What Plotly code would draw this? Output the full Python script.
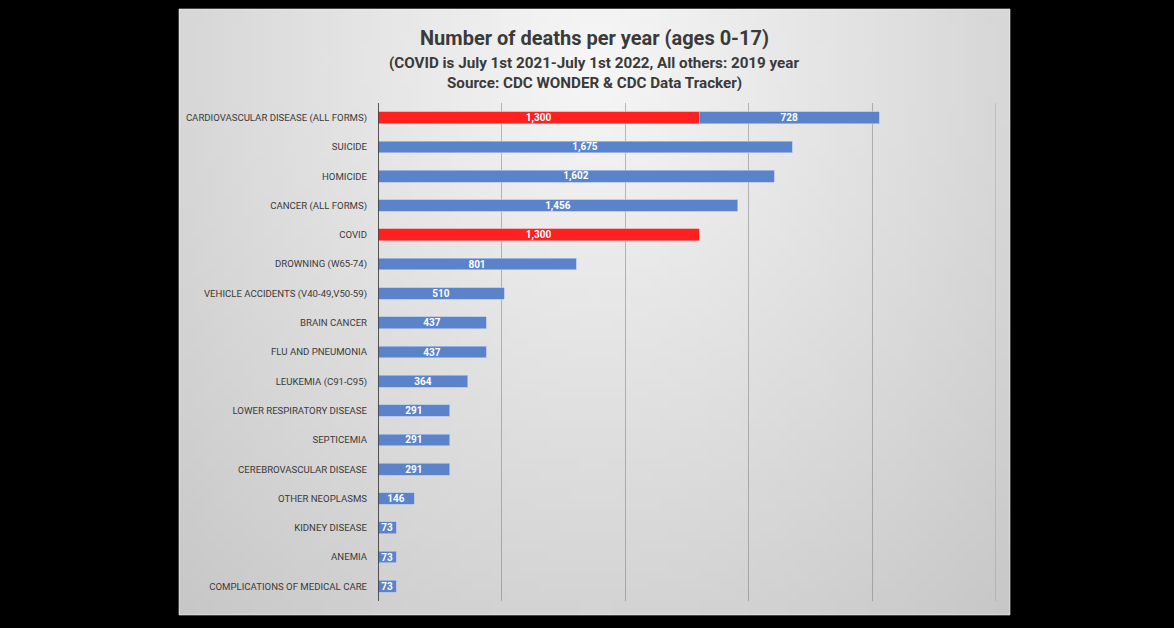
import base64
import struct
import zlib

import numpy as np
import plotly.graph_objects as go

categories = [
    "CARDIOVASCULAR DISEASE (ALL FORMS)",
    "SUICIDE",
    "HOMICIDE",
    "CANCER (ALL FORMS)",
    "COVID",
    "DROWNING (W65-74)",
    "VEHICLE ACCIDENTS (V40-49,V50-59)",
    "BRAIN CANCER",
    "FLU AND PNEUMONIA",
    "LEUKEMIA (C91-C95)",
    "LOWER RESPIRATORY DISEASE",
    "SEPTICEMIA",
    "CEREBROVASCULAR DISEASE",
    "OTHER NEOPLASMS",
    "KIDNEY DISEASE",
    "ANEMIA",
    "COMPLICATIONS OF MEDICAL CARE",
]
covid_deaths = [1300, None, None, None, 1300, None, None, None, None,
                None, None, None, None, None, None, None, None]
other_deaths = [728, 1675, 1602, 1456, None, 801, 510, 437, 437,
                364, 291, 291, 291, 146, 73, 73, 73]
x_ticks = [0, 500, 1000, 1500, 2000, 2500]

W, H = 1174, 628
# plot area in pixels
PX0, PX1, PY0, PY1 = 378, 996, 103, 601
# grey panel in pixels
GX0, GX1, GY0, GY1 = 179, 1010, 9, 615

GRID = "rgba(110,110,110,0.45)"


def to_paper_x(px):
    return (px - PX0) / (PX1 - PX0)


def to_paper_y(py):
    return (PY1 - py) / (PY1 - PY0)


def gradient_png():
    """Small grey radial gradient as a png data uri."""
    h, w = 60, 84
    yy, xx = np.mgrid[0:h, 0:w]
    u = xx / (w - 1)
    v = yy / (h - 1)
    d = np.sqrt(((u - 0.5) / 0.6) ** 2 + ((v - 0.08) / 1.0) ** 2)
    arr = np.clip(247 - 38 * d, 0, 255).astype(np.uint8)
    raw = b"".join(b"\x00" + row.tobytes() for row in arr)

    def chunk(tag, data):
        return (struct.pack(">I", len(data)) + tag + data
                + struct.pack(">I", zlib.crc32(tag + data) & 0xFFFFFFFF))

    png = (b"\x89PNG\r\n\x1a\n"
           + chunk(b"IHDR", struct.pack(">IIBBBBB", w, h, 8, 0, 0, 0, 0))
           + chunk(b"IDAT", zlib.compress(raw))
           + chunk(b"IEND", b""))
    return "data:image/png;base64," + base64.b64encode(png).decode()


FONT = "Roboto, Arial, sans-serif"

fig = go.Figure()
fig.add_trace(go.Bar(
    y=categories, x=covid_deaths, orientation="h",
    marker=dict(color="#FF2020", line=dict(color="rgba(255,150,150,0.9)", width=0.8)),
    width=0.4,
    texttemplate="%{x:,}", textposition="inside", insidetextanchor="middle",
    constraintext="none",
    textfont=dict(color="white", size=10, family=FONT, weight="bold"),
    hoverinfo="x+y", showlegend=False,
))
fig.add_trace(go.Bar(
    y=categories, x=other_deaths, orientation="h",
    marker=dict(color="#5B83CA", line=dict(color="rgba(170,195,235,0.9)", width=0.8)),
    width=0.4,
    texttemplate="%{x:,}", textposition="inside", insidetextanchor="middle",
    constraintext="none",
    textfont=dict(color="white", size=10, family=FONT, weight="bold"),
    hoverinfo="x+y", showlegend=False,
))

fig.update_layout(
    width=W, height=H,
    barmode="stack",
    paper_bgcolor="black",
    plot_bgcolor="rgba(0,0,0,0)",
    margin=dict(l=PX0, r=W - PX1, t=PY0, b=H - PY1, pad=0),
    font=dict(family=FONT, color="#3a3a3a"),
    images=[dict(
        source=gradient_png(), xref="paper", yref="paper",
        x=to_paper_x(GX0), y=to_paper_y(GY0),
        sizex=(GX1 - GX0) / (PX1 - PX0), sizey=(GY1 - GY0) / (PY1 - PY0),
        xanchor="left", yanchor="top", sizing="stretch", layer="below",
    )],
    shapes=[
        dict(type="rect", xref="paper", yref="paper",
             x0=to_paper_x(GX0), x1=to_paper_x(GX1),
             y0=to_paper_y(GY1), y1=to_paper_y(GY0),
             line=dict(color="rgba(255,255,255,0.55)", width=1), layer="below"),
        # last gridline sits on the plot edge, plotly skips it
        dict(type="line", xref="x", yref="paper", x0=x_ticks[-1], x1=x_ticks[-1],
             y0=0, y1=1, line=dict(color=GRID, width=1), layer="below"),
        dict(type="line", xref="x", yref="paper", x0=0, x1=0, y0=0, y1=1,
             line=dict(color="#303030", width=1.6), layer="above"),
    ],
)

fig.update_xaxes(
    range=[0, 2500], tickvals=x_ticks, showticklabels=False,
    showgrid=True, gridcolor=GRID, gridwidth=1,
    zeroline=False, showline=False, fixedrange=True,
)
fig.update_yaxes(
    autorange="reversed", showgrid=False, zeroline=False, showline=False,
    ticks="", ticklabelstandoff=10,
    tickfont=dict(size=9.6, color="#3a3a3a", family=FONT),
    fixedrange=True,
)

cx = 594
fig.add_annotation(text="<b>Number of deaths per year (ages 0-17)</b>",
                   xref="paper", yref="paper", x=to_paper_x(cx), y=to_paper_y(38),
                   showarrow=False, font=dict(size=20, color="#3a3a3a", family=FONT),
                   xanchor="center", yanchor="middle")
fig.add_annotation(text="<b>(COVID is July 1st 2021-July 1st 2022, All others: 2019 year</b>",
                   xref="paper", yref="paper", x=to_paper_x(cx), y=to_paper_y(63),
                   showarrow=False, font=dict(size=15.2, color="#3a3a3a", family=FONT),
                   xanchor="center", yanchor="middle")
fig.add_annotation(text="<b>Source: CDC WONDER &amp; CDC Data Tracker)</b>",
                   xref="paper", yref="paper", x=to_paper_x(cx), y=to_paper_y(83),
                   showarrow=False, font=dict(size=15.2, color="#3a3a3a", family=FONT),
                   xanchor="center", yanchor="middle")

fig.write_html(
    "out.html",
    config=dict(displayModeBar=False),
    post_script="document.body.style.margin='0';document.body.style.background='black';",
)
